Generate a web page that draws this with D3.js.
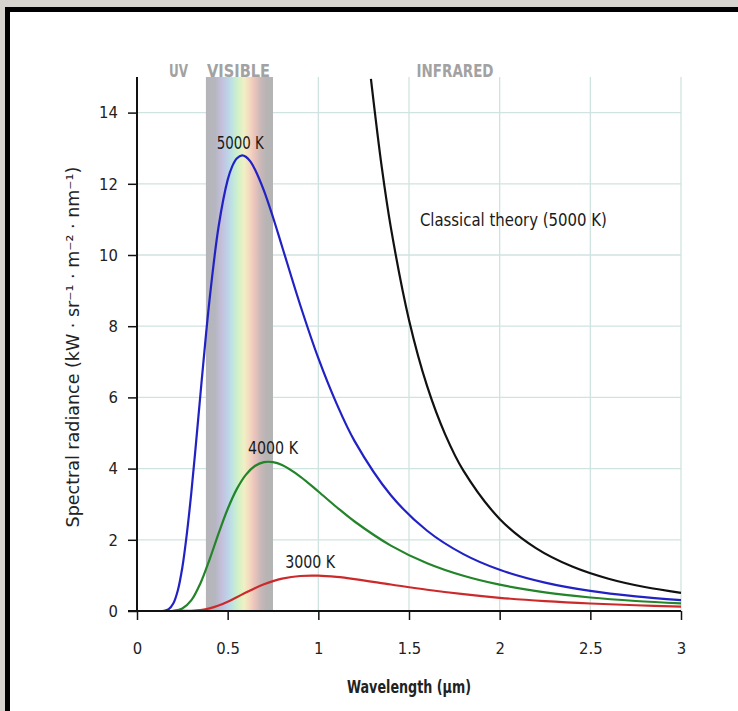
<!DOCTYPE html>
<html><head><meta charset="utf-8">
<script src="https://cdn.jsdelivr.net/npm/d3@7"></script>
<style>
html,body{margin:0;padding:0;background:#fff;}
svg{display:block;}
.narrow{font-family:"DejaVu Sans Condensed","DejaVu Sans",sans-serif;font-stretch:condensed;}
</style></head>
<body>
<svg id="chart" width="738" height="711"></svg>
<script>
// ---- data ----
const wavelengths5000 = [0, 0.1, 0.15, 0.175, 0.2, 0.225, 0.25, 0.275, 0.3, 0.325, 0.35, 0.375, 0.4, 0.45, 0.5, 0.525, 0.55, 0.58, 0.6, 0.625, 0.65, 0.7, 0.75, 0.8, 0.9, 1.0, 1.1, 1.2, 1.4, 1.6, 1.8, 2.0, 2.25, 2.5, 2.75, 3.0];
const radiance5000 = [0, 0, 0.007, 0.052, 0.21, 0.577, 1.223, 2.174, 3.346, 4.692, 6.096, 7.471, 8.742, 10.80, 12.11, 12.49, 12.71, 12.80, 12.76, 12.63, 12.41, 11.81, 11.06, 10.24, 8.596, 7.101, 5.832, 4.772, 3.252, 2.254, 1.597, 1.157, 0.797, 0.564, 0.411, 0.305];
const wavelengths = [0, 0.1, 0.15, 0.2, 0.25, 0.3, 0.35, 0.4, 0.45, 0.5, 0.55, 0.6, 0.65, 0.7, 0.75, 0.8, 0.9, 1.0, 1.1, 1.2, 1.4, 1.6, 1.8, 2.0, 2.25, 2.5, 2.75, 3.0];
const radiance4000 = [0, 0, 0, 0.006, 0.069, 0.304, 0.781, 1.446, 2.181, 2.865, 3.423, 3.825, 4.072, 4.181, 4.182, 4.098, 3.776, 3.356, 2.922, 2.514, 1.837, 1.341, 0.989, 0.739, 0.523, 0.379, 0.281, 0.212];
const radiance3000 = [0, 0, 0, 0, 0.001, 0.006, 0.025, 0.072, 0.152, 0.260, 0.387, 0.517, 0.642, 0.751, 0.840, 0.908, 0.983, 0.992, 0.957, 0.896, 0.745, 0.597, 0.472, 0.371, 0.278, 0.210, 0.161, 0.124];
const wavelengthsClassical = [1.29, 1.35, 1.4, 1.5, 1.6, 1.7, 1.8, 2.0, 2.2, 2.4, 2.6, 2.8, 3.0];
const radianceClassical = [14.95, 12.46, 10.77, 8.176, 6.316, 4.956, 3.943, 2.587, 1.767, 1.248, 0.906, 0.673, 0.511];
const xTicks = [0, 0.5, 1, 1.5, 2, 2.5, 3];
const xTickLabels = ["0", "0.5", "1", "1.5", "2", "2.5", "3"];
const yTicks = [0, 2, 4, 6, 8, 10, 12, 14];
const visibleRange = [0.38, 0.75];
const regionLabels = ["UV", "VISIBLE", "INFRARED"];
const regionLabelPos = [0.229, 0.56, 1.754];
const seriesNames = ["5000 K", "4000 K", "3000 K", "Classical theory (5000 K)"];
const seriesColors = ["#2222c4", "#23842a", "#cc2a2a", "#111111"];

// ---- layout ----
const svg = d3.select("#chart");
const W = 738, H = 711;
const x = d3.scaleLinear().domain([0, 3]).range([137, 681]);
const y = d3.scaleLinear().domain([0, 15]).range([611, 77]);

// frame
svg.append("rect").attr("x",0).attr("y",0).attr("width",W).attr("height",H).attr("fill","#fff");
svg.append("rect").attr("x",0).attr("y",0).attr("width",W).attr("height",7).attr("fill","#d6d2ce");
svg.append("rect").attr("x",0).attr("y",0).attr("width",5).attr("height",H).attr("fill","#d6d2ce");
svg.append("rect").attr("x",5).attr("y",7).attr("width",W-5).attr("height",5).attr("fill","#000");
svg.append("rect").attr("x",5).attr("y",7).attr("width",5).attr("height",H-7).attr("fill","#000");

const defs = svg.append("defs");
defs.append("clipPath").attr("id","plotclip").append("rect")
  .attr("x", x(0)).attr("y", y(15)).attr("width", x(3)-x(0)+2).attr("height", y(0)-y(15));

// gridlines
const grid = svg.append("g");
grid.selectAll("line.v").data(xTicks.slice(1)).enter().append("line")
  .attr("x1", d=>x(d)).attr("x2", d=>x(d)).attr("y1", y(15)).attr("y2", y(0))
  .attr("stroke","#cfe3e1").attr("stroke-width",1.3);
grid.selectAll("line.h").data(yTicks.slice(1)).enter().append("line")
  .attr("x1", x(0)).attr("x2", x(3)).attr("y1", d=>y(d)).attr("y2", d=>y(d))
  .attr("stroke","#cfe3e1").attr("stroke-width",1.3);

// visible band
const grad = defs.append("linearGradient").attr("id","spec").attr("x1","0").attr("x2","1").attr("y1","0").attr("y2","0");
[[0,"#b4b4b8"],[0.14,"#b6b6c0"],[0.24,"#c4c0dc"],[0.34,"#bcd6ea"],[0.42,"#c2ead8"],[0.5,"#d8f2c4"],[0.57,"#f0f0c4"],[0.64,"#f4dcc0"],[0.72,"#ecc4bc"],[0.82,"#c8b8b8"],[0.9,"#b8b4b4"],[1,"#b4b4b4"]]
  .forEach(s=>grad.append("stop").attr("offset",s[0]).attr("stop-color",s[1]));
svg.append("rect").attr("x", x(visibleRange[0])).attr("y", y(15))
  .attr("width", x(visibleRange[1])-x(visibleRange[0])).attr("height", y(0)-y(15))
  .attr("fill","url(#spec)");

// region labels
const regionWidths = [19, 63, 77];
svg.selectAll("text.region").data(regionLabels).enter().append("text")
  .attr("class","narrow").attr("x",(d,i)=>x(regionLabelPos[i])).attr("y",77)
  .attr("text-anchor","middle").attr("font-size",18).attr("font-weight","bold").attr("fill","#a2a2a2")
  .attr("textLength",(d,i)=>regionWidths[i]).attr("lengthAdjust","spacingAndGlyphs")
  .text(d=>d);

// curves
const line = d3.line().x(d=>x(d[0])).y(d=>y(d[1])).curve(d3.curveCatmullRom.alpha(0.5));
const series = [
  d3.zip(wavelengths5000, radiance5000),
  d3.zip(wavelengths, radiance4000),
  d3.zip(wavelengths, radiance3000),
  d3.zip(wavelengthsClassical, radianceClassical)
];
const cg = svg.append("g").attr("clip-path","url(#plotclip)");
cg.selectAll("path").data(series).enter().append("path")
  .attr("d", line).attr("fill","none")
  .attr("stroke",(d,i)=>seriesColors[i]).attr("stroke-width",2.2);

// axes
const xAxis = d3.axisBottom(x).tickValues(xTicks).tickFormat((d,i)=>xTickLabels[i]).tickSize(9).tickPadding(22);
const gx = svg.append("g").attr("transform",`translate(0,${y(0)})`).call(xAxis);
gx.select(".domain").remove();
gx.append("line").attr("x1", x(0)-9).attr("x2", x(3)).attr("stroke","#111").attr("stroke-width",2);
gx.selectAll(".tick line").attr("stroke","#111").attr("stroke-width",1.5);
gx.selectAll(".tick text").attr("class","narrow").attr("font-size",16.5).attr("fill","#222");

const yAxis = d3.axisLeft(y).tickValues(yTicks).tickSize(9).tickPadding(10);
const gy = svg.append("g").attr("transform",`translate(${x(0)},0)`).call(yAxis);
gy.select(".domain").remove();
gy.append("line").attr("y1", y(15)).attr("y2", y(0)).attr("stroke","#111").attr("stroke-width",2);
gy.selectAll(".tick line").attr("stroke","#111").attr("stroke-width",1.5);
gy.selectAll(".tick text").attr("class","narrow").attr("font-size",16.5).attr("fill","#222");

// curve labels
const labelPos = [[0.57, 12.97], [0.75, 4.4], [0.955, 1.22], [1.56, 10.82]];
const labelWidths = [47, 50, 50, 187];
svg.selectAll("text.clab").data(seriesNames).enter().append("text")
  .attr("class","narrow")
  .attr("x",(d,i)=>x(labelPos[i][0])).attr("y",(d,i)=>y(labelPos[i][1]))
  .attr("text-anchor",(d,i)=>i===3?"start":"middle")
  .attr("font-size",18).attr("fill","#1a1a1a")
  .attr("textLength",(d,i)=>labelWidths[i]).attr("lengthAdjust","spacingAndGlyphs")
  .text(d=>d);

// axis titles
svg.append("text").attr("class","narrow").attr("x", x(1.5)).attr("y", 693)
  .attr("text-anchor","middle").attr("font-size",17).attr("font-weight","bold").attr("fill","#222")
  .attr("textLength",124).attr("lengthAdjust","spacingAndGlyphs")
  .text("Wavelength (µm)");
svg.append("text").attr("transform",`translate(79,347) rotate(-90)`)
  .attr("text-anchor","middle").attr("font-family","DejaVu Sans, sans-serif").attr("font-size",17.5).attr("fill","#222")
  .text("Spectral radiance (kW · sr⁻¹ · m⁻² · nm⁻¹)");
</script>
</body></html>
